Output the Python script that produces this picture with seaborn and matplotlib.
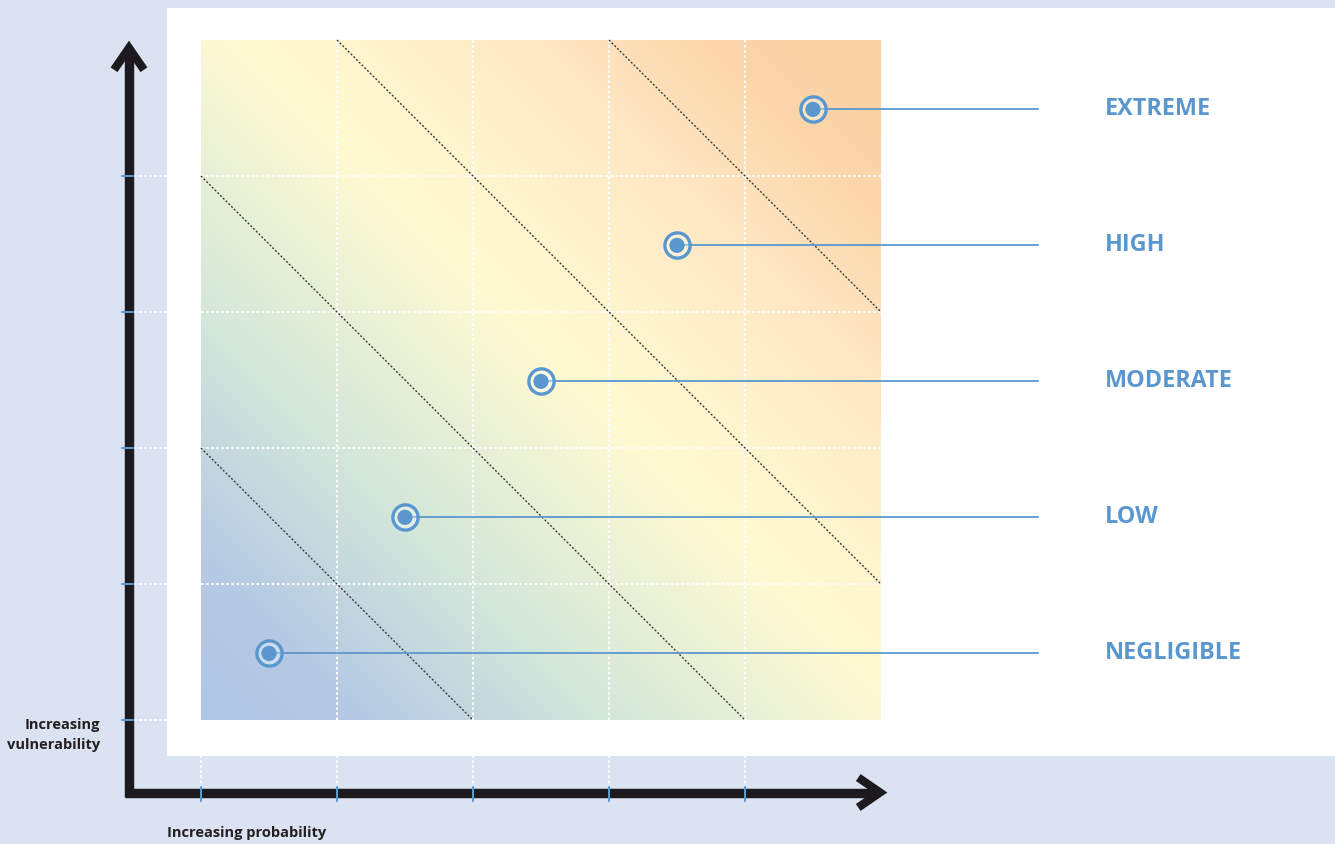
import numpy as np
import pandas as pd
import seaborn as sns
from matplotlib import pyplot as plt
from matplotlib.colors import LinearSegmentedColormap
from matplotlib.patches import Rectangle

# Daten
levels = ["NEGLIGIBLE", "LOW", "MODERATE", "HIGH", "EXTREME"]
probability = [0.5, 1.5, 2.5, 3.5, 4.5]
vulnerability = [0.49, 1.49, 2.49, 3.49, 4.49]
band_limits = [2, 4, 6, 8]  # x + y an den gestrichelten Grenzen
grid_ticks = [0, 1, 2, 3, 4]
size = 5

blue = "#5b97cf"
dark = "#1c1a1f"
lavender = "#dbe2f1"

sns.set_theme(style="white")
plt.rcParams['font.family'] = ['Open Sans', 'DejaVu Sans']

fig = plt.figure(figsize=(13.35, 8.44), dpi=100, facecolor=lavender)
ax = fig.add_axes([0, 0, 1, 1])
ax.set_facecolor(lavender)
# 136 px pro Zelle, Quadrat bei x=201..881, y=41..720 px
ax.set_xlim(-201 / 136, (1335 - 201) / 136)
ax.set_ylim(-124 / 136, 720 / 136)
ax.axis("off")

x_axis = -72 / 136     # vertikale Achse
y_axis = -72.5 / 136   # horizontale Achse

# weisses Feld
ax.add_patch(Rectangle((-34 / 136, -36 / 136), 20, 748 / 136, facecolor="white",
                       edgecolor="none", zorder=1))

# Farbverlauf
cmap = LinearSegmentedColormap.from_list("risk", [
    (0.0, "#b1c5e6"), (0.12, "#b6cae4"), (0.3, "#d4e7da"), (0.42, "#eaf2d6"),
    (0.52, "#fffad2"), (0.6, "#fff6d0"), (0.75, "#fee7c3"),
    (0.88, "#fbd6a9"), (1.0, "#fad1a2")])
g = np.linspace(0, 1, 400)
X, Y = np.meshgrid(g, g)
ax.imshow((X + Y) / 2, cmap=cmap, extent=(0, size, 0, size), origin="lower",
          interpolation="bilinear", zorder=2, aspect="auto")

# Gitter (weiss gepunktet)
dots = (0, (1.3, 1.3))
for t in grid_ticks:
    ax.plot([t, t], [y_axis, size], color="white", lw=1.4, ls=dots, zorder=1.5)
    ax.plot([x_axis, size], [t, t], color="white", lw=1.4, ls=dots, zorder=1.5)
    if t > 0:
        ax.plot([t, t], [0, size], color="white", lw=1.4, ls=dots, zorder=3)
        ax.plot([0, size], [t, t], color="white", lw=1.4, ls=dots, zorder=3)
ax.plot([0, 0], [y_axis, 0], color="white", lw=1.4, ls=dots, zorder=3)
ax.plot([x_axis, 0], [0, 0], color="white", lw=1.4, ls=dots, zorder=3)

# Grenzlinien
for s in band_limits:
    x0, x1 = max(0, s - size), min(size, s)
    ax.plot([x0, x1], [s - x0, s - x1], color="#333333", lw=1.0,
            ls=(0, (1.4, 1.4)), zorder=4)

# Hinweislinien und Beschriftungen
line_end = (1038 - 201) / 136
label_x = (1105 - 201) / 136
for p, v, name in zip(probability, vulnerability, levels):
    ax.plot([p, line_end], [v, v], color=blue, lw=1.3, zorder=5)
    ax.text(label_x, v, name, color=blue, fontsize=16.8, fontweight="bold",
            ha="left", va="center", zorder=6)

df = pd.DataFrame({"prob": probability, "vuln": vulnerability, "level": levels})
sns.scatterplot(data=df, x="prob", y="vuln", s=330, facecolor=(1, 1, 1, 0.35),
                edgecolor=blue, linewidth=2.4, ax=ax, zorder=6)
sns.scatterplot(data=df, x="prob", y="vuln", s=120, color=blue,
                edgecolor="none", ax=ax, zorder=7)
ax.set_xlabel("")
ax.set_ylabel("")

# Achsen mit Pfeilen
top = size - 8 / 136
right = size - 1 / 136
ax.plot([x_axis, x_axis], [y_axis - 4.5 / 136, top - 0.02], color=dark, lw=6.8,
        zorder=8, solid_capstyle="butt")
ax.plot([x_axis - 4.5 / 136, right - 0.02], [y_axis, y_axis], color=dark, lw=6.8,
        zorder=8, solid_capstyle="butt")
ax.plot([x_axis - 0.11, x_axis, x_axis + 0.11], [top - 0.16, top, top - 0.16],
        color=dark, lw=6, zorder=8, solid_joinstyle="miter", solid_capstyle="butt")
ax.plot([right - 0.16, right, right - 0.16], [y_axis + 0.11, y_axis, y_axis - 0.11],
        color=dark, lw=6, zorder=8, solid_joinstyle="miter", solid_capstyle="butt")

# Achsenmarken
for t in grid_ticks:
    ax.plot([t, t], [y_axis - 0.06, y_axis + 0.04], color=blue, lw=1.5, zorder=9)
    ax.plot([x_axis - 0.05, x_axis + 0.03], [t, t], color=blue, lw=1.5, zorder=9)

ax.text(-101 / 136, -15 / 136, "Increasing\nvulnerability", ha="right", va="center",
        fontsize=10.5, fontweight="bold", color="#231f20", linespacing=1.5)
ax.text(-34 / 136, -113 / 136, "Increasing probability", ha="left", va="center",
        fontsize=10.5, fontweight="bold", color="#231f20")

fig.savefig("out.png", dpi=100, facecolor=lavender)
